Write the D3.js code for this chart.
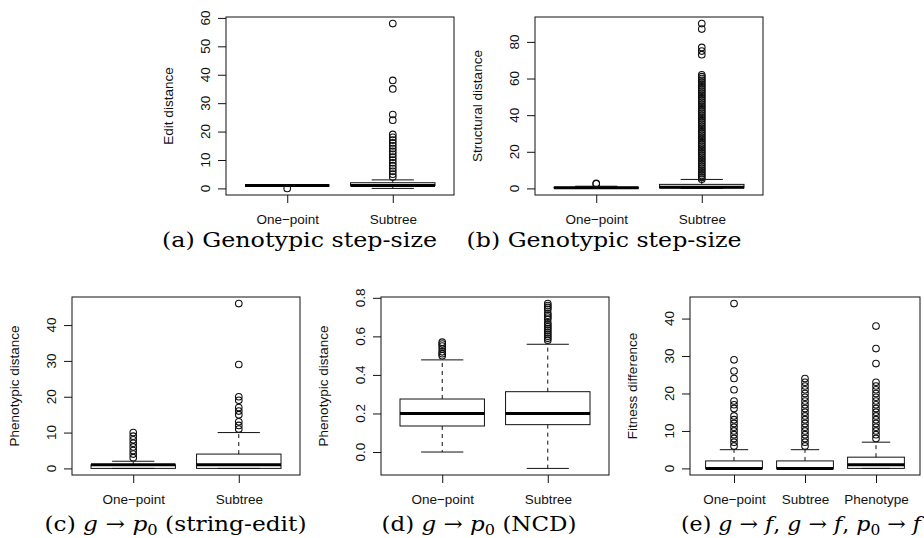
<!DOCTYPE html>
<html><head><meta charset="utf-8">
<script src="https://cdn.jsdelivr.net/npm/d3@7"></script>
<style>body{margin:0;background:#fff}</style>
</head><body>
<svg id="chart" width="924" height="538" xmlns="http://www.w3.org/2000/svg"></svg>
<script>
// ---------- DATA ----------
// stats rows: [lower whisker, Q1, median, Q3, upper whisker]
const catsA = ["One\u2212point", "Subtree"];
const statsA = [[1, 1, 1, 1, 1], [0, 1, 1, 2, 3]];
const outA = [[0], [4,5,6,7,8,9,10,11,12,13,14,15,16,17,18,19,24,26,35,38,58]];
const ticksA = [0, 10, 20, 30, 40, 50, 60];

const catsB = ["One\u2212point", "Subtree"];
const statsB = [[0, 0.2, 0.4, 0.6, 1.2], [0, 0.3, 0.7, 2.2, 4.9]];
const outB = [[2.5, 2.7],
  [5,6,7,8,9,10,11,12,13,14,15,16,17,18,19,20,21,22,23,24,25,26,27,28,29,30,31,32,33,34,35,36,37,38,39,40,41,42,43,44,45,46,47,48,49,50,51,52,53,54,55,56,57,58,59,60,61,62,73,75,77,87,90]];
const ticksB = [0, 20, 40, 60, 80];

const catsC = ["One\u2212point", "Subtree"];
const statsC = [[0, 0, 1, 1, 2], [0, 0, 1, 4, 10]];
const outC = [[3,4,5,6,7,8,9,10], [11,12,13,15,16,17,19,20,29,46]];
const ticksC = [0, 10, 20, 30, 40];

const catsD = ["One\u2212point", "Subtree"];
const statsD = [[0.0, 0.135, 0.2, 0.275, 0.478], [-0.085, 0.142, 0.2, 0.313, 0.559]];
const outD = [[0.50, 0.51, 0.52, 0.535, 0.55, 0.56, 0.57],
  [0.58,0.59,0.60,0.61,0.62,0.63,0.64,0.65,0.66,0.67,0.69,0.70,0.71,0.72,0.74,0.75,0.76,0.77]];
const ticksD = [0.0, 0.2, 0.4, 0.6, 0.8];

const catsE = ["One\u2212point", "Subtree", "Phenotype"];
const statsE = [[0, 0, 0, 2, 5], [0, 0, 0, 2, 5], [0, 0, 1, 3, 7]];
const outE = [[6,7,8,9,10,11,12,13,14,16,17,18,21,24,26,29,44],
  [6,7,8,9,10,11,12,13,14,15,16,17,18,19,20,21,22,23,24],
  [8,9,10,11,12,13,14,15,16,17,18,19,20,21,22,23,28,32,38]];
const ticksE = [0, 10, 20, 30, 40];

const yLabels = ["Edit distance", "Structural distance", "Phenotypic distance", "Phenotypic distance", "Fitness difference"];
const captions = [
  [["(a) Genotypic step-size"]],
  [["(b) Genotypic step-size"]],
  [["(c) "], ["g", "i"], [" \u2192 "], ["p", "i"], ["0", "s"], [" (string-edit)"]],
  [["(d) "], ["g", "i"], [" \u2192 "], ["p", "i"], ["0", "s"], [" (NCD)"]],
  [["(e) "], ["g", "i"], [" \u2192 "], ["f", "i"], [", "], ["g", "i"], [" \u2192 "], ["f", "i"], [", "], ["p", "i"], ["0", "s"], [" \u2192 "], ["f", "i"]]
];

// ---------- LAYOUT ----------
const layout = [
  {x0: 226, x1: 454, y0: 17, y1: 195, cx: 299.5, cy: 247, cw: 275, fmt: d3.format("d")},
  {x0: 535, x1: 763, y0: 17, y1: 195, cx: 604, cy: 247, cw: 275, fmt: d3.format("d")},
  {x0: 72, x1: 300, y0: 297, y1: 475, cx: 175.5, cy: 531, cw: 262, fmt: d3.format("d")},
  {x0: 381, x1: 609, y0: 297, y1: 475, cx: 479, cy: 531, cw: 195, fmt: d3.format(".1f")},
  {x0: 690, x1: 920, y0: 297, y1: 475, cx: 801, cy: 531, cw: 240, fmt: d3.format("d")}
];
const panelData = [
  [catsA, statsA, outA, ticksA], [catsB, statsB, outB, ticksB], [catsC, statsC, outC, ticksC],
  [catsD, statsD, outD, ticksD], [catsE, statsE, outE, ticksE]
];

const svg = d3.select("#chart");
const sans = "Liberation Sans, Arial, Helvetica, sans-serif";
const serif = "DejaVu Serif, serif";
const ink = "#111";
const capSize = 21;

panelData.forEach(([cats, stats, outs, ticks], pi) => {
  const L = layout[pi];
  const n = cats.length;
  const allVals = stats.flat().concat(outs.flat());
  const lo = d3.min(allVals), hi = d3.max(allVals);
  const pad = (hi - lo) * 0.04;
  const y = d3.scaleLinear().domain([lo - pad, hi + pad]).range([L.y1, L.y0]);
  const xpad = n * 0.04;
  const x = d3.scaleLinear().domain([0.5 - xpad, n + 0.5 + xpad]).range([L.x0, L.x1]);
  const bw = x(1.4) - x(1.0); // half box width (boxwex 0.8)
  const g = svg.append("g");

  // y axis ticks
  const ya = g.append("g").attr("transform", `translate(${L.x0},0)`)
    .call(d3.axisLeft(y).tickValues(ticks).tickSize(8).tickFormat(""));
  ya.select(".domain").remove();
  ya.selectAll(".tick line").attr("stroke", ink);
  ya.selectAll(".tick text").remove();
  g.selectAll("text.ytick").data(ticks).join("text").attr("class", "ytick")
    .attr("transform", d => `translate(${L.x0 - 21},${y(d)}) rotate(-90)`)
    .attr("dy", "0.35em").attr("text-anchor", "middle").attr("fill", ink)
    .style("font-family", sans).style("font-size", "13.5px")
    .text(d => L.fmt(d));

  // x axis
  const xa = g.append("g").attr("transform", `translate(0,${L.y1})`)
    .call(d3.axisBottom(x).tickValues(d3.range(1, n + 1)).tickSize(8).tickFormat(i => cats[i - 1]));
  xa.select(".domain").remove();
  xa.selectAll(".tick line").attr("stroke", ink);
  xa.selectAll(".tick text").attr("y", 29).attr("dy", 0).attr("fill", ink)
    .style("font-family", sans).style("font-size", "13.5px");

  // frame
  g.append("rect").attr("x", L.x0).attr("y", L.y0).attr("width", L.x1 - L.x0).attr("height", L.y1 - L.y0)
    .attr("fill", "none").attr("stroke", ink).attr("stroke-width", 1);

  // y label
  g.append("text")
    .attr("transform", `translate(${L.x0 - 58},${(L.y0 + L.y1) / 2}) rotate(-90)`)
    .attr("dy", "0.35em").attr("text-anchor", "middle").attr("fill", ink)
    .style("font-family", sans).style("font-size", "13.5px")
    .text(yLabels[pi]);

  // boxes
  stats.forEach((s, i) => {
    const cx = x(i + 1);
    const [wl, q1, md, q3, wh] = s;
    const bg = g.append("g");
    bg.append("line").attr("x1", cx).attr("x2", cx).attr("y1", y(q3)).attr("y2", y(wh))
      .attr("stroke", ink).attr("stroke-dasharray", "4,4");
    bg.append("line").attr("x1", cx).attr("x2", cx).attr("y1", y(q1)).attr("y2", y(wl))
      .attr("stroke", ink).attr("stroke-dasharray", "4,4");
    [wl, wh].forEach(v => bg.append("line").attr("x1", cx - bw / 2).attr("x2", cx + bw / 2)
      .attr("y1", y(v)).attr("y2", y(v)).attr("stroke", ink));
    bg.append("rect").attr("x", cx - bw).attr("width", 2 * bw)
      .attr("y", y(q3)).attr("height", Math.max(0, y(q1) - y(q3)))
      .attr("fill", "none").attr("stroke", ink);
    bg.append("line").attr("x1", cx - bw).attr("x2", cx + bw).attr("y1", y(md)).attr("y2", y(md))
      .attr("stroke", "#000").attr("stroke-width", 3);
    bg.selectAll("circle").data(outs[i]).join("circle")
      .attr("cx", cx).attr("cy", d => y(d)).attr("r", 3.3)
      .attr("fill", "none").attr("stroke", ink).attr("stroke-width", 1.1);
  });

  // caption
  const t = g.append("text").attr("x", L.cx - L.cw / 2).attr("y", L.cy)
    .attr("textLength", L.cw).attr("lengthAdjust", "spacingAndGlyphs")
    .attr("fill", "#000").style("font-family", serif).style("font-size", capSize + "px");
  let shifted = false;
  captions[pi].forEach(([txt, kind]) => {
    const ts = t.append("tspan").text(txt);
    if (kind === "i") ts.style("font-style", "italic");
    if (kind === "s") { ts.attr("dy", 4).style("font-size", (capSize * 0.7) + "px"); shifted = true; }
    else if (shifted) { ts.attr("dy", -4); shifted = false; }
  });
});
</script>
</body></html>
